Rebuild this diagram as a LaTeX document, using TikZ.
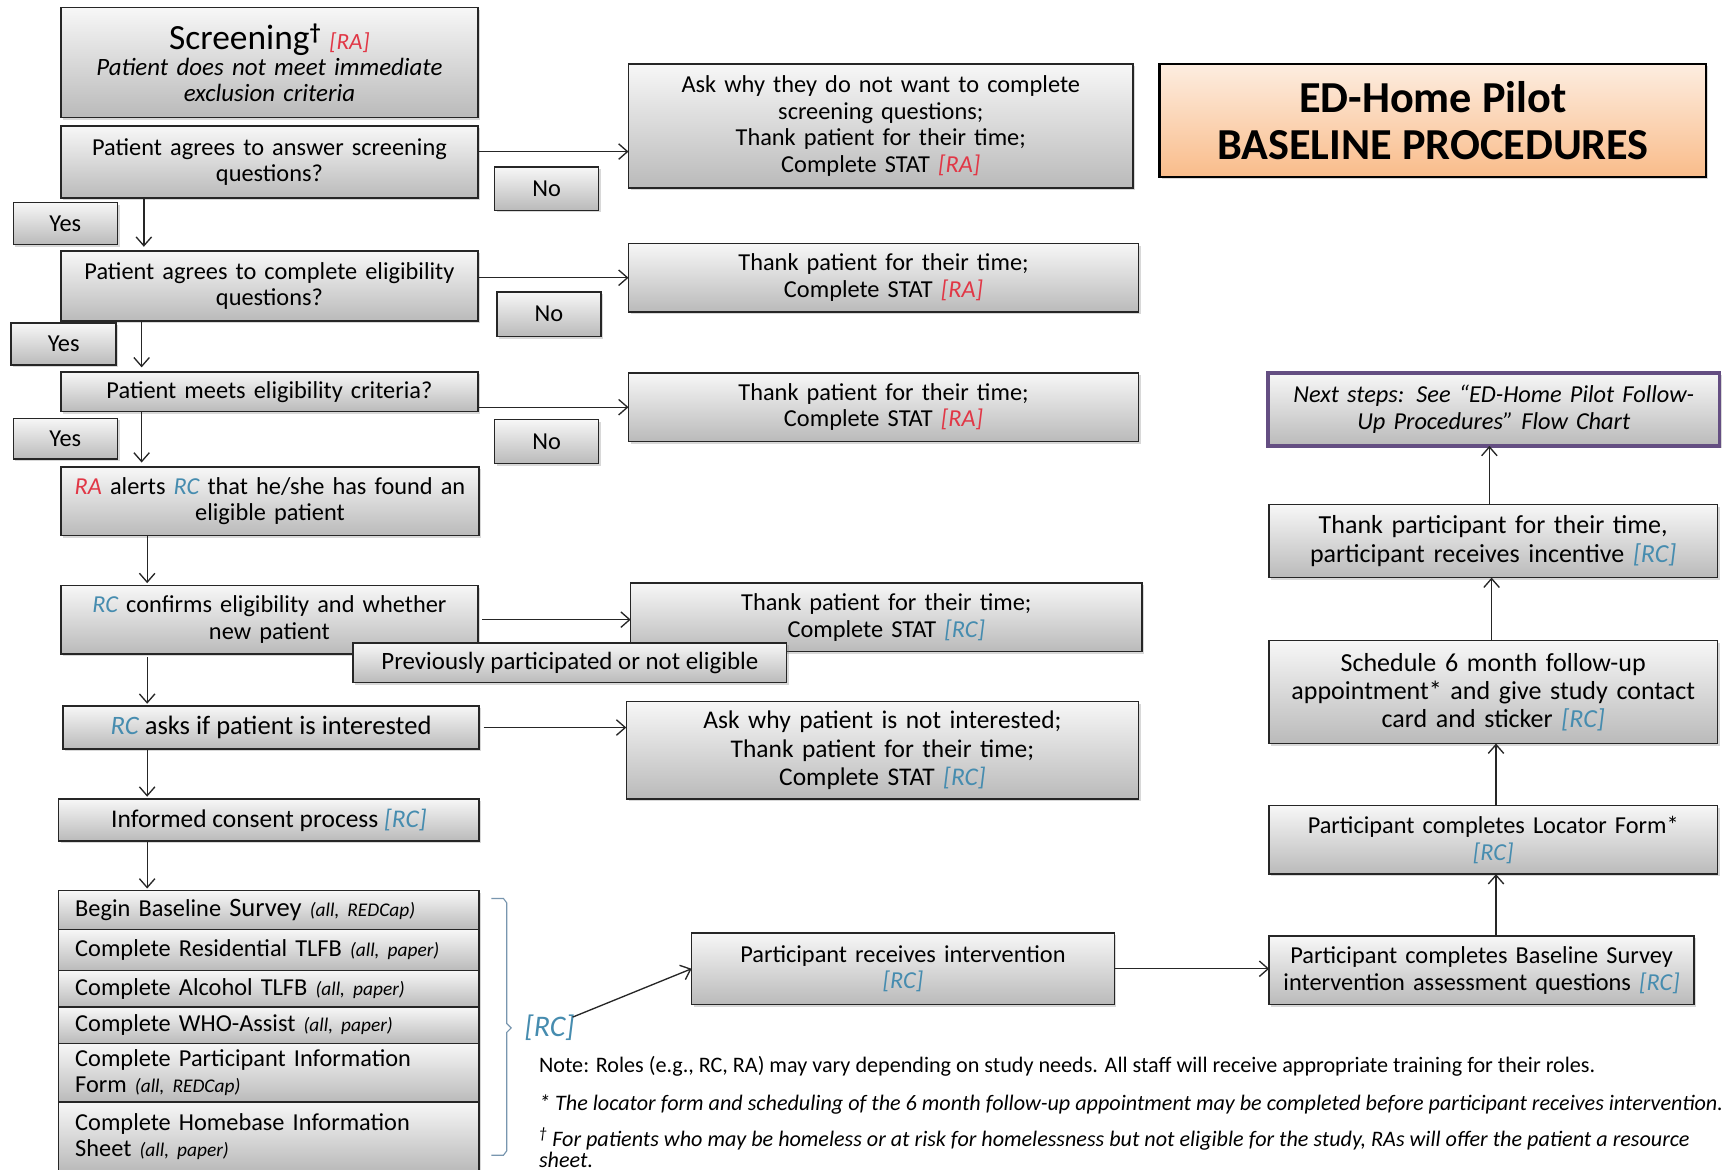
\documentclass[tikz,border=0pt]{standalone}
\usepackage{fontspec}
\setmainfont{Carlito}
\usetikzlibrary{arrows.meta,shadows,calc}
\definecolor{boxtop}{RGB}{247,247,247}
\definecolor{boxbot}{RGB}{186,186,186}
\definecolor{rared}{RGB}{225,55,70}
\definecolor{rcblue}{RGB}{70,140,175}
\definecolor{pbord}{RGB}{100,78,130}
\definecolor{otop}{RGB}{253,237,224}
\definecolor{obot}{RGB}{249,188,138}
\definecolor{brk}{RGB}{120,150,175}
\newcommand\tagRA{{\color{rared}\itshape [RA]}}
\newcommand\tagRC{{\color{rcblue}\itshape [RC]}}
\newcommand\paren[1]{{\fontsize{17.5}{18}\selectfont\itshape (#1)}}
\begin{document}
\begin{tikzpicture}[x=1pt,y=-1pt,
  box/.style={draw=black!85, line width=1.3pt, top color=boxtop, bottom color=boxbot,
    drop shadow={shadow xshift=2pt,shadow yshift=-2pt,opacity=0.3},
    inner sep=0pt, outer sep=0pt, align=center, font=\fontsize{22}{24}\selectfont},
  lbox/.style={box, align=left, inner xsep=15pt},
  arr/.style={line width=1.2pt, draw=black!85, -{Straight Barb[length=8pt,width=14pt,line width=1.2pt]}},
  note/.style={anchor=west, inner sep=0pt, font=\fontsize{20}{20}\selectfont}
]
\useasboundingbox (0,0) rectangle (1568,1057);
\fill[white] (0,0) rectangle (1568,1057);

% left column
\node[box, minimum width=377pt, minimum height=99pt, text width=365pt, font=\fontsize{22.5}{23.5}\selectfont] (scr) at (243.5,56.5)
  {{\fontsize{32}{33}\selectfont Screening\textsuperscript{\fontsize{20}{20}\selectfont\bfseries †}} {\fontsize{21}{21}\selectfont\tagRA}\\
   \itshape Patient does not meet immediate\\ \itshape exclusion criteria};
\node[box, minimum width=377pt, minimum height=65pt, text width=365pt] (q1) at (243.5,146.5)
  {Patient agrees to answer screening\\ questions?};
\node[box, minimum width=94pt, minimum height=39pt] (no1) at (494,170.5) {No};
\node[box, minimum width=94pt, minimum height=38pt] (yes1) at (59,202) {Yes};
\node[box, minimum width=456pt, minimum height=112pt, text width=440pt] (r1) at (796,114)
  {Ask why they do not want to complete\\ screening questions;\\ Thank patient for their time;\\ Complete STAT \tagRA};
\node[box, draw=black, line width=2.2pt, top color=otop, bottom color=obot, minimum width=494pt, minimum height=102pt,
  font=\fontsize{40}{43}\selectfont\bfseries] (title) at (1295,109)
  {ED-Home Pilot\\ BASELINE PROCEDURES};

\node[box, minimum width=377pt, minimum height=63pt, text width=365pt] (q2) at (243.5,258.5)
  {Patient agrees to complete eligibility\\ questions?};
\node[box, minimum width=94pt, minimum height=40pt] (no2) at (496,284) {No};
\node[box, minimum width=95pt, minimum height=38pt] (yes2) at (57.5,311) {Yes};
\node[box, minimum width=461pt, minimum height=62pt, text width=445pt] (r2) at (798.5,251)
  {Thank patient for their time;\\ Complete STAT \tagRA};

\node[box, minimum width=377pt, minimum height=36pt, text width=365pt] (q3) at (243.5,354)
  {Patient meets eligibility criteria?};
\node[box, minimum width=461pt, minimum height=62pt, text width=445pt] (r3) at (798.5,368)
  {Thank patient for their time;\\ Complete STAT \tagRA};
\node[box, minimum width=94pt, minimum height=40pt] (no3) at (494,399) {No};
\node[box, minimum width=94pt, minimum height=37pt] (yes3) at (59,396.5) {Yes};

\node[box, minimum width=378pt, minimum height=62pt, text width=365pt] (alert) at (244,453)
  {{\color{rared}\itshape RA} alerts {\color{rcblue}\itshape RC} that he/she has found an\\ eligible patient};

\node[box, minimum width=377pt, minimum height=62pt, text width=365pt] (conf) at (243.5,560)
  {{\color{rcblue}\itshape RC} confirms eligibility and whether\\ new patient};
\node[box, minimum width=462pt, minimum height=62pt, text width=445pt] (r4) at (801,558)
  {Thank patient for their time;\\ Complete STAT \tagRC};
\node[box, minimum width=392pt, minimum height=36pt, font=\fontsize{22.5}{24}\selectfont] (prev) at (515,599)
  {Previously participated or not eligible};

\node[box, minimum width=376pt, minimum height=39pt, font=\fontsize{24}{25}\selectfont] (ask) at (245,657.5)
  {{\color{rcblue}\itshape RC} asks if patient is interested};
\node[box, minimum width=463pt, minimum height=88pt, text width=445pt, font=\fontsize{23}{25.5}\selectfont] (r5) at (797.5,678)
  {Ask why patient is not interested;\\ Thank patient for their time;\\ Complete STAT \tagRC};

\node[box, minimum width=380pt, minimum height=38pt, font=\fontsize{23}{24}\selectfont] (cons) at (243,741)
  {Informed consent process \tagRC};

\node[lbox, minimum width=380pt, minimum height=35pt, text width=350pt] (s1) at (243,822.5)
  {Begin Baseline {\fontsize{24}{24}\selectfont Survey} \paren{all, REDCap}};
\node[lbox, minimum width=380pt, minimum height=37pt, text width=350pt] (s2) at (243,858.5)
  {Complete Residential TLFB \paren{all, paper}};
\node[lbox, minimum width=380pt, minimum height=33pt, text width=350pt] (s3) at (243,893.5)
  {Complete Alcohol TLFB \paren{all, paper}};
\node[lbox, minimum width=380pt, minimum height=33pt, text width=350pt] (s4) at (243,926.5)
  {Complete WHO-Assist \paren{all, paper}};
\node[lbox, minimum width=380pt, minimum height=53pt, text width=350pt] (s5) at (243,969.5)
  {Complete Participant Information\\ Form \paren{all, REDCap}};
\node[lbox, minimum width=380pt, minimum height=62pt, text width=350pt] (s6) at (243,1027)
  {Complete Homebase Information\\ Sheet \paren{all, paper}};

% bracket and RC label
\draw[brk, line width=1pt] (444,812) -- (455,812) -- (458,816) -- (458,925) -- (462,929)
  -- (458,933) -- (458,1040) -- (455,1044) -- (444,1044);
\node[inner sep=0pt, anchor=west, font=\fontsize{27}{28}\selectfont] (rclab) at (474,929) {\tagRC};

% right column
\node[box, minimum width=382pt, minimum height=65pt, text width=365pt] (interv) at (816,875.5)
  {Participant receives intervention\\ \tagRC};
\node[box, minimum width=384pt, minimum height=62pt, text width=375pt] (bsq) at (1339,877)
  {Participant completes Baseline Survey\\ intervention assessment questions \tagRC};
\node[box, minimum width=405pt, minimum height=62pt, text width=395pt] (loc) at (1349.5,759)
  {Participant completes Locator Form*\\ \tagRC};
\node[box, minimum width=405pt, minimum height=93pt, text width=400pt, font=\fontsize{23.5}{25.5}\selectfont] (sched) at (1349.5,625.5)
  {Schedule 6 month follow-up\\ appointment* and give study contact\\ card and sticker \tagRC};
\node[box, minimum width=405pt, minimum height=66pt, text width=400pt, font=\fontsize{23.5}{25.5}\selectfont] (thank) at (1349.5,489)
  {Thank participant for their time,\\ participant receives incentive \tagRC};
\node[box, draw=pbord, line width=3pt, minimum width=408pt, minimum height=66pt, text width=400pt] (next) at (1350,370)
  {\itshape Next steps: See “ED-Home Pilot Follow-\\ \itshape Up Procedures” Flow Chart};

% notes
\node[note] (n1) at (487,964) {Note: Roles (e.g., RC, RA) may vary depending on study needs. All staff will receive appropriate training for their roles.};
\node[note, font=\fontsize{20}{20}\selectfont\itshape] (n2) at (487,998) {* The locator form and scheduling of the 6 month follow-up appointment may be completed before participant receives intervention.};
\node[note, font=\fontsize{20}{15}\selectfont\itshape, align=left] (n3) at (487,1037) {\textsuperscript{†} For patients who may be homeless or at risk for homelessness but not eligible for the study, RAs will offer the patient a resource\\ sheet.};

% connectors
\draw[arr] ([yshift=9.5pt]q1.east) -- ([yshift=9.5pt]q1.east -| r1.west);
\draw[arr] ([xshift=-113.5pt]q1.south) -- ([xshift=-113.5pt,yshift=4pt]q2.north);
\draw[arr] ([yshift=7.5pt]q2.east) -- ([yshift=7.5pt]q2.east -| r2.west);
\draw[arr] ([xshift=-115.5pt]q2.south) -- ([xshift=-115.5pt,yshift=4pt]q3.north);
\draw[arr] ([yshift=-14pt]q3.east) -- ([yshift=-14pt]q3.east -| r3.west);
\draw[arr] ([xshift=-115.5pt]q3.south) -- ([xshift=-116pt,yshift=4pt]alert.north);
\draw[arr] ([xshift=-111pt]alert.south) -- ([xshift=-110.5pt,yshift=2pt]conf.north);
\draw[arr] ([xshift=4pt]conf.east) -- (conf.east -| r4.west);
\draw[arr] ([xshift=-110.5pt,yshift=-3pt]conf.south) -- ([xshift=-112pt,yshift=2pt]ask.north);
\draw[arr] ([xshift=4pt]ask.east) -- (ask.east -| r5.west);
\draw[arr] ([xshift=-112pt]ask.south) -- ([xshift=-110pt,yshift=2pt]cons.north);
\draw[arr] ([xshift=-110pt]cons.south) -- ([xshift=-110pt,yshift=2pt]s1.north);
\draw[arr] ([xshift=-2pt,yshift=-2pt]rclab.north east) -- (interv.west);
\draw[arr] (interv.east) -- (interv.east -| bsq.west);
\draw[arr] ([xshift=13pt]bsq.north) -- ([xshift=13pt]bsq.north |- loc.south);
\draw[arr] ([xshift=2.5pt]loc.north) -- ([xshift=2.5pt]loc.north |- sched.south);
\draw[arr] ([xshift=-1.5pt]sched.north) -- ([xshift=-1.5pt]sched.north |- thank.south);
\draw[arr] ([xshift=-3.5pt]thank.north) -- ([xshift=-3.5pt]thank.north |- next.south);
\end{tikzpicture}
\end{document}
